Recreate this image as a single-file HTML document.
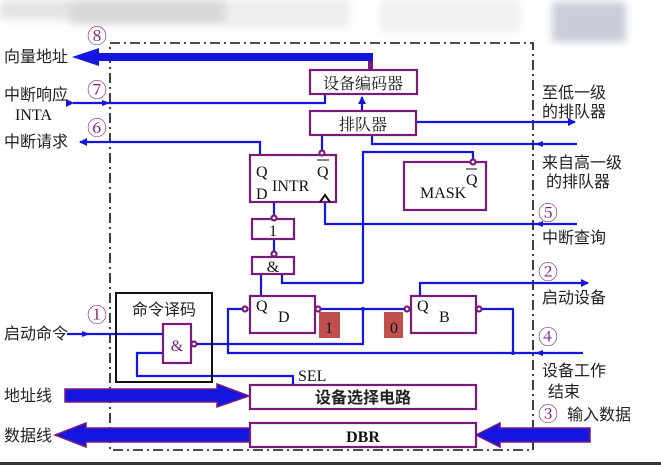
<!DOCTYPE html><html><head><meta charset="utf-8"><style>
body{margin:0;background:#fff}
svg{display:block}
text{font-family:"Liberation Serif","Noto Serif CJK SC","Noto Sans CJK SC",serif;font-size:16px;fill:#111}
.c{font-family:"Liberation Sans","Noto Sans CJK SC",sans-serif;fill:#222}
.n{fill:#7a1a7a;font-size:20px}
</style></head><body>
<svg width="661" height="465" viewBox="0 0 661 465" xmlns="http://www.w3.org/2000/svg">
<defs><filter id="b"><feGaussianBlur stdDeviation="4"/></filter>
<marker id="a" markerWidth="8" markerHeight="8" refX="7" refY="4" orient="auto" markerUnits="userSpaceOnUse"><path d="M0,0 L8,4 L0,8 Z" fill="#1515e0"/></marker></defs>
<g filter="url(#b)">
<rect x="0" y="0" width="225" height="20" fill="#e4e4e4"/>
<rect x="70" y="0" width="160" height="24" fill="#d8d8d8"/>
<rect x="225" y="0" width="125" height="28" fill="#eeeeee"/>
<rect x="380" y="0" width="140" height="32" fill="#f0f0f0"/>
<rect x="552" y="2" width="74" height="40" fill="#c9cdd9"/>
</g>
<rect x="0" y="462" width="661" height="3" fill="#333"/>
<rect x="110" y="43" width="423" height="407" fill="none" stroke="#111" stroke-width="1.6" stroke-dasharray="10,4,2,4"/>
<g fill="none" stroke="#1515e0" stroke-width="2.2">
<polyline points="73,103 325,103 325,94" marker-start="url(#a)"/>
<line x1="362" y1="110" x2="362" y2="97" marker-end="url(#a)"/>
<line x1="416" y1="122" x2="575" y2="122" marker-end="url(#a)"/>
<polyline points="577,144 372,144 372,135"/>
<polyline points="260,155 260,142 80,142" marker-end="url(#a)"/>
<line x1="322" y1="135" x2="322" y2="151"/>
<polyline points="325,202 325,224 577,224"/>
<polyline points="363,283 363,152 473,152 473,160"/>
<line x1="274" y1="202" x2="274" y2="216"/>
<line x1="274" y1="239" x2="274" y2="251"/>
<polyline points="282,274 282,283 363,283"/>
<line x1="261" y1="274" x2="261" y2="296"/>
<line x1="321" y1="309" x2="404" y2="309"/>
<polyline points="420,296 420,283 588,283" marker-end="url(#a)"/>
<polyline points="482,309 513,309 513,353"/>
<polyline points="583,353 228,353 228,309 242,309"/>
<polyline points="197,344 363,344 363,309"/>
<line x1="67" y1="334" x2="163" y2="334"/>
<polyline points="163,353 137,353 137,376 293,376 293,385"/>
</g>
<g fill="#1515e0">
<path d="M110,103 l-8,-3 v6z"/><path d="M535,144 l8,-3 v6z"/><path d="M535,224 l8,-3 v6z"/><path d="M535,353 l8,-3 v6z"/><path d="M90,334 l-8,-3 v6z"/>
<circle cx="363" cy="309" r="2"/><circle cx="513" cy="353" r="2"/>
</g>
<path d="M373,53 H99 V48 L72,57 L99,66 V61 H373Z" fill="#1515e0"/>
<rect x="368" y="61" width="5" height="9" fill="#7a1a7a"/>
<path d="M65,389 H217 V384 L249,396 L217,407 V402 H65Z" fill="#1515e0" stroke="#7a1a7a" stroke-width="1.5"/>
<path d="M250,428 H86 V423 L55,435 L86,447 V442 H250Z" fill="#1515e0" stroke="#7a1a7a" stroke-width="1.5"/>
<path d="M590,428 H500 V423 L476,435 L500,447 V442 H590Z" fill="#1515e0" stroke="#7a1a7a" stroke-width="1.5"/>
<g fill="#fff" stroke="#7a1a7a" stroke-width="2.2">
<rect x="310" y="70" width="107" height="24"/>
<rect x="310" y="111" width="106" height="24"/>
<rect x="250" y="155" width="86" height="47"/>
<rect x="404" y="162" width="82" height="48"/>
<rect x="252" y="219" width="42" height="20"/>
<rect x="252" y="257" width="42" height="17"/>
<rect x="250" y="296" width="65" height="37"/>
<rect x="411" y="296" width="65" height="37"/>
<rect x="250" y="385" width="226" height="24"/>
<rect x="250" y="423" width="226" height="24"/>
<circle cx="322" cy="153" r="2.5"/><circle cx="473" cy="162" r="2.5"/>
<circle cx="274" cy="218" r="2.5"/><circle cx="274" cy="254" r="2.5"/>
<circle cx="245" cy="309" r="2.5"/><circle cx="318" cy="309" r="2.5"/>
<circle cx="407" cy="309" r="2.5"/><circle cx="479" cy="309" r="2.5"/>
<circle cx="194" cy="344" r="2.5"/>
</g>
<rect x="116" y="293" width="96" height="89" fill="none" stroke="#111" stroke-width="2"/>
<rect x="163" y="324" width="28" height="39" fill="#fff" stroke="#7a1a7a" stroke-width="2.2"/>
<path d="M320,202 L325,195 L330,202" fill="none" stroke="#111" stroke-width="2"/>
<rect x="319" y="312" width="21" height="26" fill="#c0504d"/>
<rect x="384" y="312" width="19" height="26" fill="#c0504d"/>
<text x="363" y="89" text-anchor="middle" font-size="18">设备编码器</text>
<text x="363" y="130" text-anchor="middle" font-size="18">排队器</text>
<text x="256" y="177" font-size="14">Q</text><text x="256" y="199" font-size="14">D</text>
<text x="272" y="191" font-size="19">INTR</text>
<text x="317" y="177" font-size="14">Q</text><line x1="317" y1="160" x2="329" y2="160" stroke="#111"/>
<text x="420" y="198" font-size="19">MASK</text>
<text x="466" y="185" font-size="14">Q</text><line x1="466" y1="169" x2="477" y2="169" stroke="#111"/>
<text x="273" y="236" text-anchor="middle" font-size="15">1</text>
<text x="273" y="272" text-anchor="middle" font-size="16">&amp;</text>
<text x="256" y="311" font-size="14">Q</text><text x="278" y="322" font-size="20">D</text>
<text x="417" y="311" font-size="14">Q</text><text x="439" y="322" font-size="20">B</text>
<text x="329" y="333" text-anchor="middle" font-size="16">1</text>
<text x="394" y="333" text-anchor="middle" font-size="16">0</text>
<text x="164" y="315" text-anchor="middle" font-size="17" class="c">命令译码</text>
<text x="177" y="351" text-anchor="middle" font-size="20" style="fill:#7a1a7a">&amp;</text>
<text x="298" y="381" font-size="17">SEL</text>
<text x="363" y="403" text-anchor="middle" font-size="17" font-weight="bold" class="c">设备选择电路</text>
<text x="363" y="442" text-anchor="middle" font-size="18" font-weight="bold">DBR</text>
<g font-size="16">
<text x="4" y="62" class="c">向量地址</text>
<text x="4" y="100" class="c">中断响应</text>
<text x="15" y="120" style="font-family:'Liberation Serif',serif" font-size="17">INTA</text>
<text x="4" y="147" class="c">中断请求</text>
<text x="4" y="339" class="c">启动命令</text>
<text x="4" y="401" class="c">地址线</text>
<text x="4" y="441" class="c">数据线</text>
<text x="542" y="98" class="c">至低一级</text>
<text x="542" y="117" class="c">的排队器</text>
<text x="542" y="168" class="c">来自高一级</text>
<text x="546" y="187" class="c">的排队器</text>
<text x="542" y="243" class="c">中断查询</text>
<text x="542" y="303" class="c">启动设备</text>
<text x="542" y="376" class="c">设备工作</text>
<text x="548" y="397" class="c">结束</text>
<text x="567" y="420" class="c">输入数据</text>
</g>
<g>
<text x="87" y="43" class="n">⑧</text><text x="87" y="97" class="n">⑦</text><text x="87" y="135" class="n">⑥</text>
<text x="87" y="322" class="n">①</text><text x="538" y="220" class="n">⑤</text><text x="538" y="279" class="n">②</text>
<text x="538" y="344" class="n">④</text><text x="538" y="421" class="n">③</text>
</g>
</svg>
</body></html>
